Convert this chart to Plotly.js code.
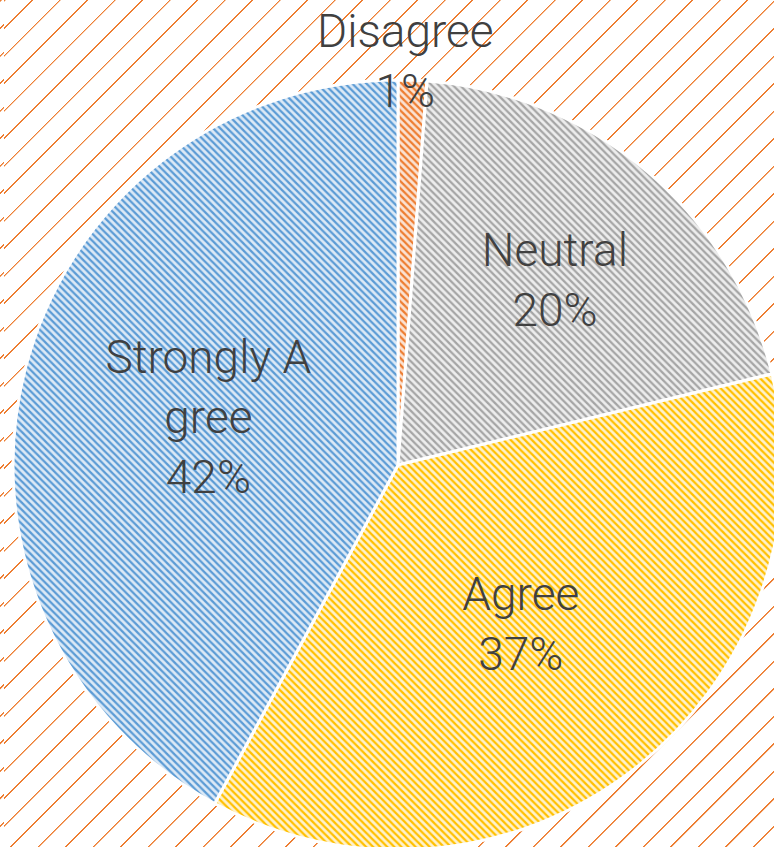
<!DOCTYPE html>
<html>
<head>
<meta charset="utf-8">
<script src="https://cdn.plot.ly/plotly-3.0.1.min.js"></script>
<style>
  html, body { margin: 0; padding: 0; overflow: hidden; width: 774px; height: 847px; }
  body {
    background-color: #ffffff;
    background-image: repeating-linear-gradient(135deg, #ED7D31 0px, #ED7D31 1.1px, rgba(255,255,255,0) 1.6px, rgba(255,255,255,0) 19.45px);
    background-position: 4px 0;
  }
  #chart { position: absolute; left: 0; top: 0; width: 800px; height: 860px; }
</style>
</head>
<body>
<div id="chart"></div>
<script>
// Data
const categories = ["Disagree", "Neutral", "Agree", "Strongly Agree"];
const shownLabels = ["Disagree", "Neutral", "Agree", "Strongly A<br>gree"];
const values = [1.2, 20.0, 36.7, 42.1];

// Styles
const fgColors = ["#ED7D31", "#A5A5A5", "#FFC000", "#5B9BD5"];
const bgColors = ["#FBE2D2", "#EDEDED", "#FFF2CC", "#DCE9F6"];
const textPositions = ["none", "inside", "inside", "inside"];
const labelFont = { family: "Roboto, Liberation Sans, Arial, sans-serif", size: 46, color: "#404040", weight: 300 };

const total = values.reduce((a, b) => a + b, 0);

const trace = {
  type: "pie",
  labels: categories,
  values: values,
  text: shownLabels,
  texttemplate: "%{text}<br>%{percent:.0%}",
  textinfo: "text+percent",
  textposition: textPositions,
  insidetextorientation: "horizontal",
  sort: false,
  direction: "clockwise",
  rotation: 0,
  marker: {
    colors: bgColors,
    line: { color: "#ffffff", width: 3 },
    pattern: {
      shape: "\\",
      fgcolor: fgColors,
      bgcolor: bgColors,
      size: 5,
      solidity: 0.45,
      fillmode: "replace"
    }
  },
  textfont: labelFont,
  insidetextfont: labelFont,
  domain: { x: [13/800, 783/800], y: [10/860, 780/860] },
  showlegend: false,
  hoverinfo: "label+percent"
};

// Label of the tiny first slice, sitting above the pie top as in the reference
const smallLabel = shownLabels[0] + "<br>" + Math.round(values[0] / total * 100) + "%";

const layout = {
  width: 800,
  height: 860,
  margin: { l: 0, r: 0, t: 0, b: 0 },
  paper_bgcolor: "rgba(0,0,0,0)",
  plot_bgcolor: "rgba(0,0,0,0)",
  showlegend: false,
  annotations: [{
    text: smallLabel,
    xref: "paper", yref: "paper",
    x: 406/800, y: 858/860,
    xanchor: "center", yanchor: "top",
    showarrow: false,
    font: labelFont
  }]
};

Plotly.newPlot("chart", [trace], layout, { displayModeBar: false, staticPlot: true });
</script>
</body>
</html>
